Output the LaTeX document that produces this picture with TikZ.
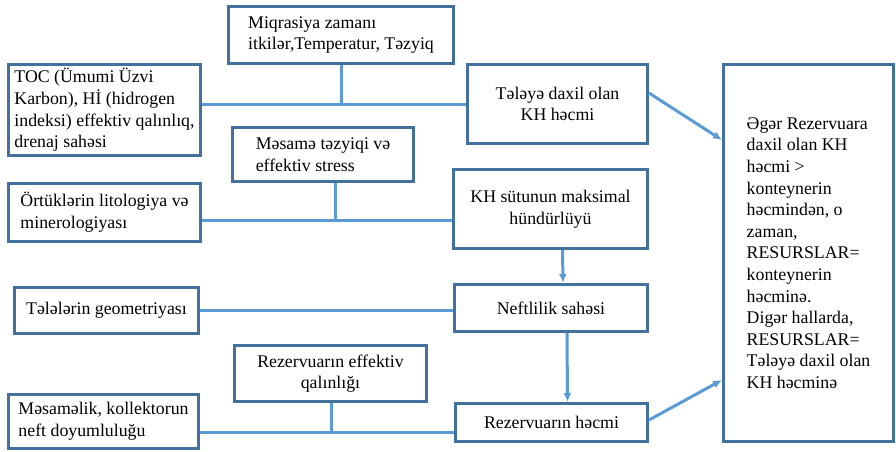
\documentclass[tikz,border=0pt]{standalone}
\usepackage{fontspec}
\setmainfont{Liberation Serif}
\usetikzlibrary{arrows.meta}
\definecolor{frame}{HTML}{41719C}
\definecolor{wire}{HTML}{5B9BD5}

\begin{document}
\begin{tikzpicture}[x=1pt, y=-1pt, bx/.style={draw=frame, line width=3.2pt, rectangle, inner sep=0pt, font=\fontsize{17.8}{21.6}\selectfont}, ln/.style={draw=wire, line width=3pt}, ar/.style={ln, -{Latex[length=9pt,width=8pt]}}]
		\useasboundingbox (0,0) rectangle (896,452);
		\node[bx, align=left, minimum width=224.8pt, minimum height=56.8pt] (M) at (341,35) {Miqrasiya zamanı\\itkilər,Temperatur, Təzyiq};
		\node[bx, align=left, minimum width=191.8pt, minimum height=90.8pt] (T) at (104.5,110) {TOC (Ümumi Üzvi\\Karbon), Hİ (hidrogen\\indeksi) effektiv qalınlıq,\\drenaj sahəsi};
		\node[bx, align=center, minimum width=179.8pt, minimum height=78.8pt] (Q) at (557.5,104) {Tələyə daxil olan\\KH həcmi};
		\node[bx, align=left, minimum width=180.8pt, minimum height=53.8pt] (P) at (323,154.5) {Məsamə təzyiqi və\\effektiv stress};
		\node[bx, align=left, minimum width=191.8pt, minimum height=57.8pt] (S) at (104.5,212.5) {Örtüklərin litologiya və\\minerologiyası};
		\node[bx, align=center, minimum width=193.8pt, minimum height=78.8pt] (K) at (550.5,209) {KH sütunun maksimal\\hündürlüyü};
		\node[bx, align=center, minimum width=183.8pt, minimum height=45.8pt] (G) at (106.5,310.5) {Tələlərin geometriyası};
		\node[bx, align=center, minimum width=192.8pt, minimum height=46.8pt] (N) at (551,308) {Neftlilik sahəsi};
		\node[bx, align=center, minimum width=191.8pt, minimum height=55.8pt] (E) at (330.5,373.5) {Rezervuarın effektiv\\qalınlığı};
		\node[bx, align=left, minimum width=189.8pt, minimum height=53.8pt] (O) at (103.5,421.5) {Məsaməlik, kollektorun\\neft doyumluluğu};
		\node[bx, align=center, minimum width=191.8pt, minimum height=37.8pt] (V) at (551.5,422.5) {Rezervuarın həcmi};
		\node[bx, align=left, minimum width=169.8pt, minimum height=376.8pt] (R) at (808.5,253) {Əgər Rezervuara\\daxil olan KH\\həcmi >\\konteynerin\\həcmindən, o\\zaman,\\RESURSLAR=\\konteynerin\\həcminə.\\Digər hallarda,\\RESURSLAR=\\Tələyə daxil olan\\KH həcminə};

		\coordinate (j1) at (M.south |- Q.west);
		\coordinate (j2) at (335,220);
		\coordinate (j3) at (331,432);

		\draw[ln] (M) -- (j1);
		\draw[ln] (T.east |- j1) -- (Q.west |- j1);
		\draw[ln] (P.south -| j2) -- (j2);
		\draw[ln] (S.east |- j2) -- (K.west |- j2);
		\draw[ln] (G) -- (G -| N.west);
		\draw[ln] (E.south -| j3) -- (j3);
		\draw[ln] (O.east |- j3) -- (V.west |- j3);
		\draw[ar] ([xshift=12pt]K.south) -- ([xshift=12pt]N.north);
		\draw[ar] ([xshift=16pt]N.south) -- ([xshift=16pt]V.north);
		\draw[ar] ([yshift=11pt]Q.east) -- ([yshift=113pt]R.west);
		\draw[ar] ([yshift=2.5pt]V.east) -- ([yshift=-127pt]R.west);
	\end{tikzpicture}
\end{document}
